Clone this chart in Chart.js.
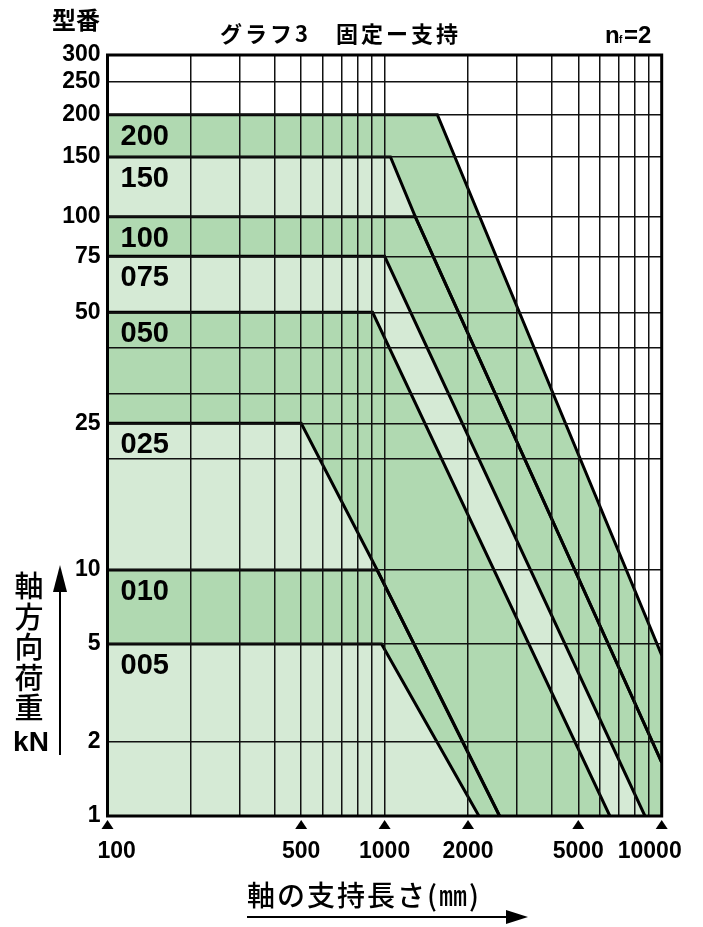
<!DOCTYPE html>
<html lang="ja">
<head>
<meta charset="UTF-8">
<title>グラフ3 固定ー支持</title>
<script src="https://cdn.jsdelivr.net/npm/chart.js"></script>
<style>
  html, body { margin: 0; padding: 0; background: #fff; }
  canvas { display: block; }
</style>
</head>
<body>
<canvas id="chart" width="703" height="927"></canvas>
<script>
// gridlines and labelled ticks
const xGridValues = [100, 200, 300, 400, 500, 600, 700, 800, 900, 1000,
                     2000, 3000, 4000, 5000, 6000, 7000, 8000, 9000, 10000];
const xTickLabels = [100, 500, 1000, 2000, 5000, 10000];
const yGridValues = [1, 2, 5, 10, 20, 25, 30, 40, 50, 75, 100, 150, 200, 250, 300];
const yTickLabels = [1, 2, 5, 10, 25, 50, 75, 100, 150, 200, 250, 300];

// boundary of each model: [support length mm, axial load kN]
const models = ['005', '010', '025', '050', '075', '100', '150', '200'];
const line005 = [[100, 5], [975, 5], [2190, 1]];
const line010 = [[100, 10], [940, 10], [2600, 1]];
const line025 = [[100, 25], [500, 25], [940, 10], [2600, 1]];
const line050 = [[100, 50], [905, 50], [6500, 1]];
const line075 = [[100, 75], [1000, 75], [8700, 1]];
const line100 = [[100, 100], [1290, 100], [10000, 1.65]];
const line150 = [[100, 150], [1050, 150], [1290, 100], [10000, 1.65]];
const line200 = [[100, 200], [1550, 200], [10000, 4.5]];
const lines = [line005, line010, line025, line050, line075, line100, line150, line200];

const LIGHT = '#d5ead5';
const DARK = '#b0d9b1';
const bandColors = [LIGHT, DARK, LIGHT, DARK, LIGHT, DARK, LIGHT, DARK];

// the printed load axis is logarithmic, but each stretch has its own spacing
const yBreaks = [1, 10, 50, 100, 300];
const yStretch = [0.726, 1.088, 0.937, 1];
function ty(v) {
    let t = 0;
    for (let i = 0; i < yBreaks.length - 1; i++) {
        const a = yBreaks[i], b = yBreaks[i + 1];
        if (v <= a) break;
        t += yStretch[i] * Math.log10(Math.min(v, b) / a);
    }
    return t;
}

const NUM_FONT = '"Liberation Sans", Arial, Helvetica, sans-serif';
const JP_FONT = '"Noto Sans CJK JP", sans-serif';

const decor = {
    id: 'decor',
    afterDraw(chart) {
        const { ctx, chartArea: a, scales: { x, y } } = chart;
        ctx.save();
        ctx.fillStyle = '#000';
        ctx.strokeStyle = '#000';

        // frame
        ctx.lineWidth = 3;
        ctx.strokeRect(a.left, a.top, a.right - a.left, a.bottom - a.top);

        // model names inside each band
        ctx.font = 'bold 29px ' + NUM_FONT;
        ctx.textAlign = 'left';
        ctx.textBaseline = 'middle';
        models.forEach((m, i) => {
            const level = lines[i][0][1];
            ctx.fillText(m, a.left + 13, y.getPixelForValue(ty(level)) + 22);
        });

        // x tick markers and labels
        ctx.font = 'bold 23px ' + NUM_FONT;
        ctx.textAlign = 'center';
        xTickLabels.forEach(v => {
            const px = x.getPixelForValue(v);
            ctx.beginPath();
            ctx.moveTo(px, a.bottom + 4);
            ctx.lineTo(px - 6, a.bottom + 13);
            ctx.lineTo(px + 6, a.bottom + 13);
            ctx.closePath();
            ctx.fill();
            const s = String(v);
            const w = ctx.measureText(s).width;
            let cx = Math.max(px, a.left - 10 + w / 2);
            cx = Math.min(cx, a.right + 20 - w / 2);
            ctx.fillText(s, cx, a.bottom + 36);
        });

        // headings
        ctx.textAlign = 'left';
        ctx.font = 'bold 24px ' + JP_FONT;
        ctx.fillText('型番', 52, 20);
        ctx.font = 'bold 22px ' + JP_FONT;
        ctx.letterSpacing = '3px';
        ctx.fillText('グラフ3　固定ー支持', 220, 34);
        ctx.letterSpacing = '0px';
        ctx.textBaseline = 'alphabetic';
        ctx.font = 'bold 24px ' + NUM_FONT;
        ctx.fillText('n', 605, 43);
        ctx.font = 'bold 10px ' + NUM_FONT;
        ctx.fillText('f', 619, 43);
        ctx.font = 'bold 24px ' + NUM_FONT;
        ctx.fillText('=2', 624, 43);

        // y axis title, vertical
        ctx.textAlign = 'center';
        ctx.textBaseline = 'middle';
        ctx.font = '500 29px ' + JP_FONT;
        '軸方向荷重'.split('').forEach((c, i) => ctx.fillText(c, 29, 586 + i * 30.5));
        ctx.font = 'bold 28px ' + NUM_FONT;
        ctx.fillText('kN', 31, 743);
        ctx.lineWidth = 2;
        ctx.beginPath();
        ctx.moveTo(60, 755);
        ctx.lineTo(60, 588);
        ctx.stroke();
        ctx.beginPath();
        ctx.moveTo(60, 565);
        ctx.lineTo(53, 592);
        ctx.lineTo(67, 592);
        ctx.closePath();
        ctx.fill();

        // x axis title with arrow
        ctx.textAlign = 'left';
        ctx.font = '500 28px ' + JP_FONT;
        ctx.letterSpacing = '2px';
        ctx.fillText('軸の支持長さ(㎜)', 247, 895);
        ctx.letterSpacing = '0px';
        ctx.beginPath();
        ctx.moveTo(247, 917);
        ctx.lineTo(510, 917);
        ctx.stroke();
        ctx.beginPath();
        ctx.moveTo(528, 917);
        ctx.lineTo(506, 910);
        ctx.lineTo(506, 924);
        ctx.closePath();
        ctx.fill();

        ctx.restore();
    }
};

const datasets = lines.map((pts, i) => ({
    label: models[i],
    data: pts.map(([len, load]) => ({ x: len, y: ty(load) })),
    borderColor: '#000',
    borderWidth: 3,
    backgroundColor: bandColors[i],
    fill: 'start',
    pointRadius: 0,
    tension: 0
}));

new Chart(document.getElementById('chart'), {
    type: 'line',
    data: { datasets },
    options: {
        responsive: false,
        animation: false,
        events: [],
        layout: { padding: { top: 55, right: 41.3, left: 0, bottom: 0 } },
        plugins: {
            legend: { display: false },
            tooltip: { enabled: false },
            filler: { drawTime: 'beforeDatasetsDraw' }
        },
        scales: {
            x: {
                type: 'logarithmic',
                min: 100,
                max: 10000,
                afterBuildTicks: s => { s.ticks = xGridValues.map(v => ({ value: v })); },
                afterFit: s => { s.height = 111; },
                ticks: { display: false },
                grid: { color: '#111', lineWidth: 1.5, drawTicks: false, z: 1 },
                border: { display: false }
            },
            y: {
                type: 'linear',
                min: 0,
                max: ty(300),
                afterBuildTicks: s => { s.ticks = yGridValues.map(v => ({ value: ty(v) })); },
                afterFit: s => { s.width = 107.5; },
                ticks: {
                    autoSkip: false,
                    padding: 7,
                    color: '#000',
                    font: { family: NUM_FONT, size: 23, weight: 'bold' },
                    callback: (val, i) => yTickLabels.includes(yGridValues[i]) ? String(yGridValues[i]) : ''
                },
                grid: { color: '#111', lineWidth: 1.5, drawTicks: false, z: 1 },
                border: { display: false }
            }
        }
    },
    plugins: [decor]
});
</script>
</body>
</html>
